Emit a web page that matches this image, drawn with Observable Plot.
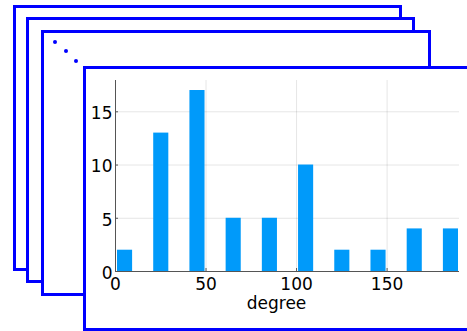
<!DOCTYPE html>
<html><head><meta charset="utf-8">
<script src="https://cdn.jsdelivr.net/npm/d3@7"></script>
<script src="https://cdn.jsdelivr.net/npm/@observablehq/plot@0.6"></script>
<style>
html,body{margin:0;padding:0;background:#fff;}
#stage{position:relative;width:467px;height:331px;overflow:hidden;background:#fff;}
.frame{position:absolute;box-sizing:border-box;border:3px solid #0000ff;background:#fff;}
.dot{position:absolute;width:4px;height:4px;border-radius:50%;background:#0000ff;}
#chart{position:absolute;left:0;top:0;}
</style></head><body>
<div id="stage">
<div class="frame" style="left:13px;top:5px;width:389px;height:266px"></div>
<div class="frame" style="left:26px;top:17px;width:389px;height:266px"></div>
<div class="frame" style="left:41px;top:30px;width:390px;height:266px"></div>
<div class="dot" style="left:53px;top:40px"></div>
<div class="dot" style="left:64px;top:49px"></div>
<div class="dot" style="left:74px;top:59px"></div>
<div class="frame" style="left:83px;top:66px;width:420px;height:265px"></div>
<div id="chart"></div>
</div>
<script>
const binStart = [0, 20, 40, 60, 80, 100, 120, 140, 160, 180];
const counts = [2, 13, 17, 5, 5, 10, 2, 2, 4, 4];
const binWidth = 10;
const xTicks = [0, 50, 100, 150];
const yTicks = [0, 5, 10, 15];
const xLabel = "degree";

const bars = binStart.map((s, i) => ({x1: s, x2: s + binWidth, count: counts[i]}));

const chart = Plot.plot({
  width: 467, height: 331,
  marginLeft: 115, marginRight: 8, marginTop: 80, marginBottom: 60,
  style: {background: "transparent", fontFamily: "DejaVu Sans", fontSize: "17px", overflow: "visible"},
  x: {domain: [0, 190]},
  y: {domain: [0, 17.94]},
  marks: [
    Plot.gridX(xTicks, {stroke: "#000", strokeOpacity: 0.1}),
    Plot.gridY(yTicks, {stroke: "#000", strokeOpacity: 0.1}),
    Plot.rectY(bars, {x1: "x1", x2: "x2", y: "count", fill: "#009AFA", insetLeft: 2, insetRight: 1}),
    Plot.ruleX([0], {stroke: "#555"}),
    Plot.ruleY([0], {stroke: "#555"}),
    Plot.axisY(yTicks, {tickSize: 0, tickPadding: 3, dy: 2, fontSize: 17, fill: "#000", label: null}),
    Plot.axisY(yTicks, {fill: "none", tickSize: 3, dx: 3, stroke: "#555", label: null}),
    Plot.axisX(xTicks, {tickSize: 0, tickPadding: 6, fontSize: 17, fill: "#000", label: null}),
    Plot.axisX(xTicks, {fill: "none", tickSize: 3, dy: -3, stroke: "#555", label: null}),
    Plot.text([xLabel], {frameAnchor: "bottom", dy: 37, dx: -11, fontSize: 17, fill: "#000"})
  ]
});
document.getElementById("chart").appendChild(chart);
</script>
</body></html>
